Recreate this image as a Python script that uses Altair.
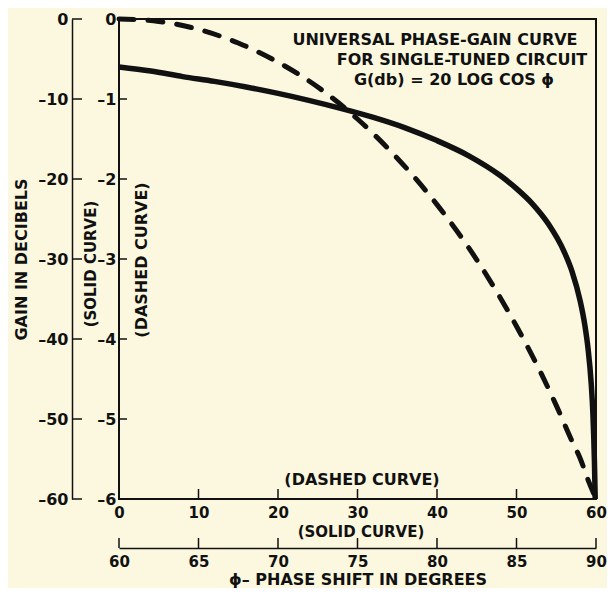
import altair as alt
import pandas as pd

# ---- data ----
# dashed curve: phase 0..60 deg (inner x scale), gain 0..-6 dB (inner y scale)
dashed_phase = [0, 5, 10, 15, 20, 25, 30, 35, 40, 45, 50, 53, 55, 57, 58, 59, 60]
dashed_gain = [0, -0.03, -0.13, -0.30, -0.54, -0.85, -1.25, -1.74, -2.32, -3.01,
               -3.84, -4.41, -4.83, -5.28, -5.49, -5.76, -6.0]

# solid curve: phase 60..90 deg (outer x scale), gain 0..-60 dB (outer y scale)
solid_phase = [60, 62, 64, 66, 68, 70, 72, 74, 76, 78, 80, 82, 84, 85, 86, 87, 88,
               88.5, 89, 89.3, 89.5, 89.7, 89.8, 89.9, 89.95]
solid_gain = [-6.0, -6.5, -7.2, -7.8, -8.5, -9.3, -10.2, -11.2, -12.3, -13.6, -15.2,
              -17.1, -19.6, -21.2, -23.1, -25.6, -29.1, -31.6, -35.2, -38.3, -41.2,
              -45.6, -49.1, -55.2, -60.0]

inner_x_ticks = [0, 10, 20, 30, 40, 50, 60]
inner_y_ticks = [0, -1, -2, -3, -4, -5, -6]
outer_x_ticks = [60, 65, 70, 75, 80, 85, 90]
outer_y_ticks = [0, -10, -20, -30, -40, -50, -60]

# ---- style ----
INK = "#111111"
BG = "#FCF8E0"
FONT = "DejaVu Sans"
W, H = 477, 480
NEG = "(datum.value < 0 ? '–' : '') + format(abs(datum.value), 'd')"

dashed_df = pd.DataFrame({"phase": dashed_phase, "gain": dashed_gain})
solid_df = pd.DataFrame({"phase": solid_phase, "gain": solid_gain})


def ix_scale():
    return alt.Scale(domain=[0, 60], nice=False, zero=False)


def iy_scale():
    return alt.Scale(domain=[-6, 0], nice=False, zero=False)


def ox_scale():
    return alt.Scale(domain=[60, 90], nice=False, zero=False)


def oy_scale():
    return alt.Scale(domain=[-60, 0], nice=False, zero=False)


# ---- inner (dashed) curve with the inner axes ----
dashed_line = alt.Chart(dashed_df).mark_line(
    color=INK, strokeWidth=5, strokeDash=[15, 14], strokeCap="round", interpolate="monotone"
).encode(
    x=alt.X("phase:Q", scale=ix_scale(),
            axis=alt.Axis(orient="bottom", values=inner_x_ticks, title=None, labelFlush=False,
                          labelPadding=6, labelFontSize=15, domain=False, ticks=False, grid=False)),
    y=alt.Y("gain:Q", scale=iy_scale(),
            axis=alt.Axis(orient="left", values=inner_y_ticks, title=None, labelFlush=False,
                          labelExpr=NEG, labelPadding=3, domain=False, ticks=False, grid=False)),
)

inner_xt = alt.Chart(pd.DataFrame({"t": inner_x_ticks})).mark_rule(color=INK, strokeWidth=1.5).encode(
    x=alt.X("t:Q", scale=ix_scale(), axis=None), y=alt.value(H), y2=alt.value(H - 10)
)
inner_yt = alt.Chart(pd.DataFrame({"t": inner_y_ticks})).mark_rule(color=INK, strokeWidth=1.5).encode(
    y=alt.Y("t:Q", scale=iy_scale(), axis=None), x=alt.value(0), x2=alt.value(8)
)

# ---- outer (solid) curve with the outer axes ----
solid_line = alt.Chart(solid_df).mark_line(
    color=INK, strokeWidth=5.5, interpolate="monotone"
).encode(
    x=alt.X("phase:Q", scale=ox_scale(),
            axis=alt.Axis(orient="bottom", offset=49, values=outer_x_ticks,
                          title="ϕ– PHASE SHIFT IN DEGREES", titlePadding=2,
                          labelFlush=False, labelPadding=6, labelFontSize=15,
                          domain=True, ticks=False, grid=False)),
    y=alt.Y("gain:Q", scale=oy_scale(),
            axis=alt.Axis(orient="left", offset=47, values=outer_y_ticks,
                          title="GAIN IN DECIBELS", titlePadding=8, labelExpr=NEG,
                          labelFlush=False, labelPadding=4, domain=True, ticks=False, grid=False)),
)
outer_xt = alt.Chart(pd.DataFrame({"t": outer_x_ticks})).mark_rule(color=INK, strokeWidth=1.5).encode(
    x=alt.X("t:Q", scale=ox_scale(), axis=None), y=alt.value(H + 49), y2=alt.value(H + 39)
)
outer_yt = alt.Chart(pd.DataFrame({"t": outer_y_ticks})).mark_rule(color=INK, strokeWidth=1.5).encode(
    y=alt.Y("t:Q", scale=oy_scale(), axis=None), x=alt.value(-47), x2=alt.value(-37)
)

# ---- annotations ----
one = pd.DataFrame({"a": [0]})


def label(txt, x, y, angle=0, size=16):
    return alt.Chart(one).mark_text(
        font=FONT, fontSize=size, fontWeight="bold", color=INK, align="center",
        baseline="middle", angle=angle
    ).encode(x=alt.value(x), y=alt.value(y), text=alt.value(txt))


notes = [
    label("UNIVERSAL PHASE-GAIN CURVE", 316, 21),
    label("FOR SINGLE-TUNED CIRCUIT", 343, 41),
    label("G(db) = 20 LOG COS ϕ", 335, 61),
    label("(DASHED CURVE)", 243, 461),
    label("(SOLID CURVE)", 242, 513, size=15),
    label("(SOLID CURVE)", -28, 245, angle=270, size=15),
    label("(DASHED CURVE)", 23, 241, angle=270),
]

chart = alt.layer(
    dashed_line, solid_line, inner_xt, inner_yt, outer_xt, outer_yt, *notes
).resolve_scale(
    x="independent", y="independent"
).resolve_axis(
    x="independent", y="independent"
).properties(
    width=W, height=H,
    autosize=alt.AutoSizeParams(type="none"),
    padding={"left": 111, "top": 11, "right": 11, "bottom": 89},
    background=BG,
).configure_view(
    stroke=INK, strokeWidth=2, fill=BG
).configure_axis(
    labelFont=FONT, labelFontSize=16, labelFontWeight="bold", labelColor=INK,
    titleFont=FONT, titleFontSize=16, titleFontWeight="bold", titleColor=INK,
    domainColor=INK, domainWidth=1.5, grid=False, tickSize=0
)

chart.save("out.html", embed_options={"renderer": "svg", "actions": False})
